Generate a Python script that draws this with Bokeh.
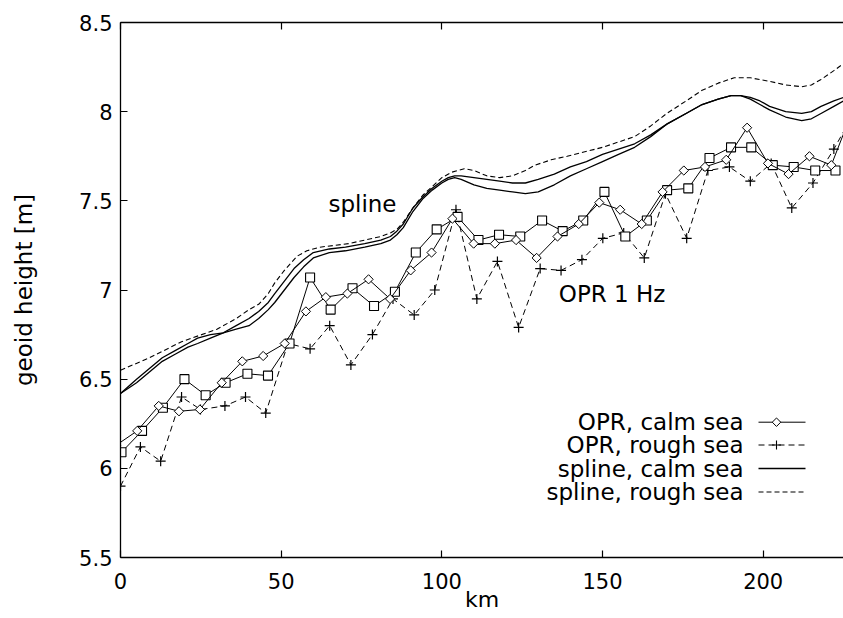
import numpy as np
from bokeh.plotting import figure
from bokeh.models import FixedTicker, LinearAxis, Label, CustomJSTickFormatter
from bokeh.embed import file_html
from bokeh.resources import INLINE

# ---------------- data ----------------
x_ticks = [0, 50, 100, 150, 200]
y_ticks = [5.5, 6, 6.5, 7, 7.5, 8, 8.5]

# OPR, calm sea (diamonds, solid)
calm_km = [-1.3, 5.2, 11.9, 18.2, 24.7, 31.5, 37.9, 44.4, 51.1, 57.7, 63.9, 70.6, 77.2, 83.9,
           90.3, 96.8, 103.3, 109.9, 116.5, 123.1, 129.5, 136.0, 142.6, 149.0, 155.5, 162.2,
           168.7, 175.3, 181.9, 188.5, 195.0, 201.5, 207.9, 214.4, 221.2, 227.7]
calm_h = [6.13, 6.21, 6.35, 6.32, 6.33, 6.48, 6.60, 6.63, 6.70, 6.88, 6.96, 6.98, 7.06, 6.95,
          7.11, 7.21, 7.40, 7.26, 7.26, 7.28, 7.18, 7.30, 7.37, 7.49, 7.45, 7.37,
          7.55, 7.67, 7.69, 7.73, 7.91, 7.71, 7.65, 7.75, 7.70, 8.00]

# OPR, rough sea (plus, dashed)
rough_km = [0, 6.2, 12.5, 19.0, 24.9, 32.5, 38.9, 45.2, 52.1, 59.0, 65.1, 71.7, 78.4, 84.8,
            91.4, 97.8, 104.4, 110.9, 117.3, 123.9, 130.6, 137.1, 143.6, 150.1, 156.6, 163.0,
            169.6, 176.2, 182.8, 189.5, 196.0, 202.5, 208.9, 215.5, 222.0, 228.5]
rough_h = [5.90, 6.12, 6.04, 6.40, 6.33, 6.35, 6.40, 6.31, 6.70, 6.67, 6.80, 6.58, 6.75, 6.95,
           6.86, 7.00, 7.45, 6.95, 7.16, 6.79, 7.12, 7.11, 7.17, 7.29, 7.32, 7.18,
           7.54, 7.29, 7.67, 7.69, 7.61, 7.71, 7.46, 7.60, 7.79, 8.00]

# third OPR track (squares, solid, not in the key)
sq_km = [0.3, 6.7, 13.2, 19.9, 26.5, 32.7, 39.5, 45.9, 52.6, 59.0, 65.4, 72.2, 78.9, 85.4,
         91.9, 98.4, 104.9, 111.4, 117.8, 124.4, 131.2, 137.6, 144.0, 150.6, 157.1, 163.8,
         170.1, 176.7, 183.3, 190.0, 196.3, 203.0, 209.5, 216.2, 222.5]
sq_h = [6.09, 6.21, 6.34, 6.50, 6.41, 6.48, 6.53, 6.52, 6.70, 7.07, 6.89, 7.01, 6.91, 6.99,
        7.21, 7.34, 7.41, 7.28, 7.31, 7.30, 7.39, 7.33, 7.39, 7.55, 7.30, 7.39,
        7.56, 7.57, 7.74, 7.80, 7.80, 7.70, 7.69, 7.67, 7.67]

# spline curves (solid: calm sea, two tracks; dashed: rough sea)
spl_km = [0, 5, 9, 13, 17, 21, 24, 28, 32, 36, 40, 43, 46, 48, 51, 54, 57, 60, 65, 70, 76,
          81, 84, 86, 88, 91, 94, 97, 100, 102, 104, 106, 110, 114, 118, 122, 126, 130, 135,
          140, 145, 150, 155, 160, 165, 170, 176, 181, 186, 190, 193, 196, 199, 202, 207,
          212, 215, 218, 222, 225]
spl_calm_h = [6.42, 6.48, 6.54, 6.60, 6.64, 6.68, 6.70, 6.73, 6.76, 6.80, 6.84, 6.88, 6.93,
              6.98, 7.05, 7.12, 7.17, 7.21, 7.23, 7.24, 7.26, 7.28, 7.30, 7.33, 7.37, 7.46,
              7.52, 7.57, 7.61, 7.63, 7.64, 7.64, 7.63, 7.62, 7.61, 7.60, 7.60, 7.62, 7.65,
              7.69, 7.72, 7.76, 7.79, 7.82, 7.87, 7.93, 7.99, 8.04, 8.07, 8.09, 8.09, 8.08,
              8.06, 8.03, 8.00, 7.99, 8.00, 8.03, 8.06, 8.08]
spl_calm2_h = [6.42, 6.50, 6.56, 6.62, 6.66, 6.70, 6.73, 6.75, 6.76, 6.78, 6.80, 6.84, 6.89,
               6.93, 7.00, 7.07, 7.13, 7.18, 7.21, 7.22, 7.24, 7.26, 7.28, 7.31, 7.35, 7.44,
               7.51, 7.56, 7.60, 7.62, 7.63, 7.62, 7.59, 7.57, 7.56, 7.55, 7.54, 7.55, 7.59,
               7.64, 7.68, 7.72, 7.76, 7.80, 7.86, 7.93, 7.99, 8.04, 8.07, 8.09, 8.09, 8.07,
               8.04, 8.01, 7.97, 7.95, 7.96, 7.99, 8.03, 8.06]
spl_rough_km = [0, 9, 19, 30, 36, 40, 43, 46, 48, 51, 55, 58, 62, 71, 81, 84, 86, 88, 91, 94,
                97, 100, 103, 107, 110, 114, 118, 122, 126, 129, 134, 139, 150, 155, 160, 165,
                170, 176, 181, 186, 191, 196, 202, 207, 212, 215, 218, 222, 225]
spl_rough_h = [6.55, 6.62, 6.71, 6.78, 6.84, 6.89, 6.92, 6.98, 7.04, 7.11, 7.19, 7.22, 7.24,
               7.26, 7.30, 7.32, 7.34, 7.38, 7.46, 7.53, 7.58, 7.63, 7.66, 7.68, 7.67, 7.64,
               7.63, 7.64, 7.67, 7.70, 7.73, 7.75, 7.80, 7.83, 7.86, 7.92, 7.99, 8.06, 8.12,
               8.16, 8.19, 8.19, 8.17, 8.15, 8.14, 8.15, 8.18, 8.23, 8.27]

legend_labels = ["OPR, calm sea", "OPR, rough sea", "spline, calm sea", "spline, rough sea"]

# ---------------- styling / layout ----------------
FONT = "DejaVu Sans"
FS = "23px"
TICK_FS = "21px"
X0, X1 = 0, 225
Y0, Y1 = 5.5, 8.5

p = figure(width=843, height=618, x_range=(X0, X1), y_range=(Y0, Y1),
           output_backend="svg", toolbar_location=None,
           min_border_left=120, min_border_top=22, min_border_right=0, min_border_bottom=61)
p.background_fill_color = "white"
p.border_fill_color = "white"
p.outline_line_color = None
p.xgrid.visible = False
p.ygrid.visible = False

fmt = CustomJSTickFormatter(code="return String(tick);")
for ax in (p.xaxis[0], p.yaxis[0]):
    ax.major_tick_in = 7
    ax.major_tick_out = 0
    ax.minor_tick_line_color = None
    ax.axis_line_color = "black"
    ax.axis_line_width = 1.3
    ax.major_tick_line_width = 1.2
    ax.major_label_text_font = FONT
    ax.major_label_text_font_size = TICK_FS
    ax.major_label_text_color = "black"
    ax.formatter = fmt
p.xaxis[0].ticker = FixedTicker(ticks=x_ticks)
p.yaxis[0].ticker = FixedTicker(ticks=y_ticks)
p.xaxis[0].major_label_standoff = 15
p.xaxis[0].axis_label = "km"
p.xaxis[0].axis_label_text_font = FONT
p.xaxis[0].axis_label_text_font_size = "22px"
p.xaxis[0].axis_label_text_font_style = "normal"
p.xaxis[0].axis_label_text_color = "black"
p.xaxis[0].axis_label_standoff = -5
p.yaxis[0].major_label_standoff = 8
p.yaxis[0].axis_label = "geoid height [m]"
p.yaxis[0].axis_label_text_font = FONT
p.yaxis[0].axis_label_text_font_size = FS
p.yaxis[0].axis_label_text_font_style = "normal"
p.yaxis[0].axis_label_text_color = "black"
p.yaxis[0].axis_label_standoff = 39

top = LinearAxis(ticker=FixedTicker(ticks=x_ticks), major_tick_in=7, major_tick_out=0,
                 minor_tick_line_color=None, major_label_text_font_size="0px",
                 major_label_standoff=0, axis_line_color="black", axis_line_width=1.3,
                 major_tick_line_width=1.2)
top.major_label_text_alpha = 0
p.add_layout(top, "above")

# ---------------- data series ----------------
LW = 1.0
p.line(spl_rough_km, spl_rough_h, line_color="black", line_width=1.1, line_dash="5 3")
p.line(spl_km, spl_calm_h, line_color="black", line_width=1.3)
p.line(spl_km, spl_calm2_h, line_color="black", line_width=1.3)

p.line(rough_km, rough_h, line_color="black", line_width=LW, line_dash="6 4")
p.scatter(rough_km, rough_h, marker="cross", size=10, line_color="black", line_width=1.2)

p.line(sq_km, sq_h, line_color="black", line_width=LW)
p.scatter(sq_km, sq_h, marker="square", size=9, line_color="black", fill_color="white",
          line_width=1.1)

p.line(calm_km, calm_h, line_color="black", line_width=LW)
p.scatter(calm_km, calm_h, marker="square", angle=0.785398, size=6.5, line_color="black",
          fill_color="white", line_width=1.0)

# in-plot texts
p.add_layout(Label(x=75.3, y=7.485, text="spline", text_font=FONT, text_font_size=FS,
                   text_align="center", text_baseline="middle", text_color="black"))
p.add_layout(Label(x=153.0, y=6.98, text="OPR 1 Hz", text_font=FONT, text_font_size=FS,
                   text_align="center", text_baseline="middle", text_color="black"))

# ---------------- key (text right-aligned, sample on the right, gnuplot style) ----------------
px_per_km = 723.0 / (X1 - X0)
px_per_m = 535.0 / (Y1 - Y0)
key_text_x = (743 - 120) / px_per_km
key_s0 = (758 - 120) / px_per_km
key_s1 = (805 - 120) / px_per_km
key_mid = (776 - 120) / px_per_km
row_px = [421.7, 444.5, 468.0, 491.5]
row_y = [Y0 + (557 - r) / px_per_m for r in row_px]
styles = [dict(line_dash="solid", lw=1.0), dict(line_dash="6 4", lw=1.0),
          dict(line_dash="solid", lw=1.3), dict(line_dash="5 3", lw=1.1)]
for lab, yy, st in zip(legend_labels, row_y, styles):
    p.add_layout(Label(x=key_text_x, y=yy, text=lab, text_font=FONT, text_font_size=FS,
                       text_align="right", text_baseline="middle", text_color="black"))
    p.line([key_s0, key_s1], [yy, yy], line_color="black", line_width=st["lw"],
           line_dash=st["line_dash"])
p.scatter([key_mid], [row_y[0]], marker="square", angle=0.785398, size=6, line_color="black",
          fill_color="white")
p.scatter([key_mid], [row_y[1]], marker="cross", size=9, line_color="black", line_width=1.1)

open("out.html", "w").write(file_html(p, INLINE))
